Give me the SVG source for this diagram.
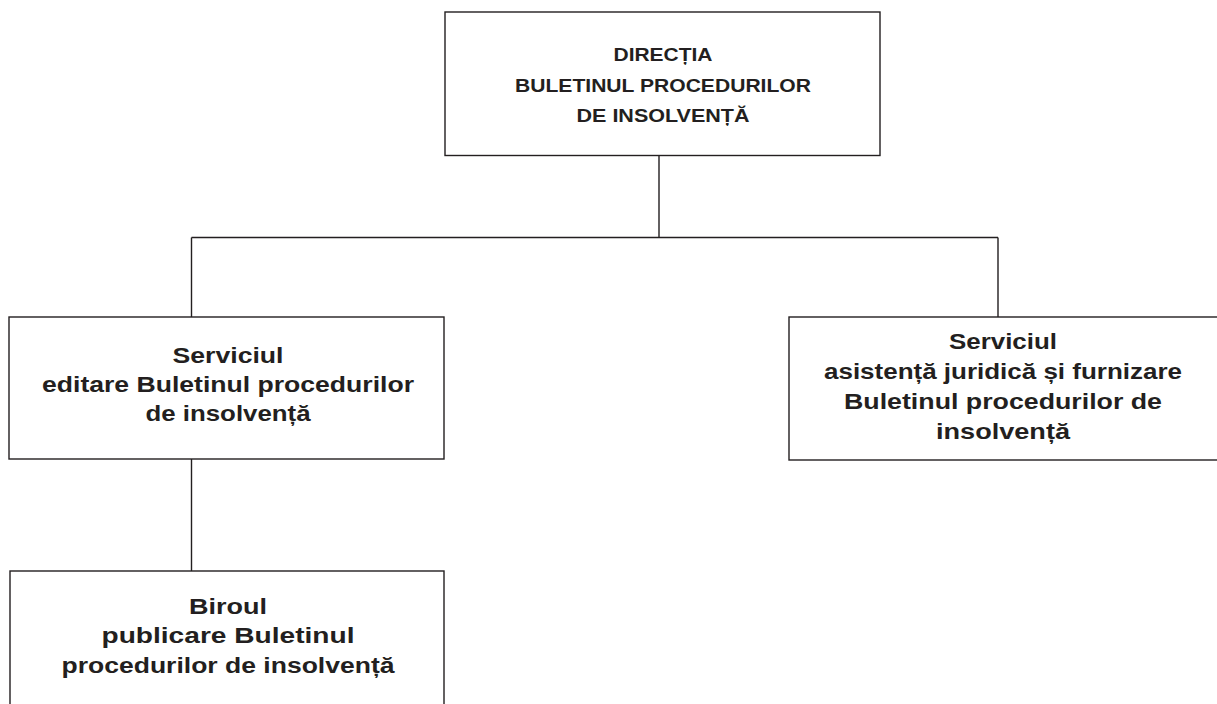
<svg xmlns="http://www.w3.org/2000/svg" width="1217" height="704" viewBox="0 0 1217 704">
<style>
.box{fill:#fff;stroke:#231f20;stroke-width:1.4}
.ln{fill:none;stroke:#231f20;stroke-width:1.4}
text{font-family:"Liberation Sans",Arial,sans-serif;font-weight:bold;fill:#231f20;text-anchor:middle}
.t1{font-size:19px}
.t2{font-size:22px}
</style>
<rect width="1217" height="704" fill="#fff"/>
<g id="connectors">
<path class="ln" d="M659,155 V237.5 M191.5,237.5 H998 M191.5,237.5 V317 M998,237.5 V317 M191.5,459 V571"/>
</g>
<g id="directia">
<rect class="box" x="445" y="12" width="435" height="143.5"/>
<text class="t1" x="663" y="61" textLength="99" lengthAdjust="spacingAndGlyphs">DIRECȚIA</text>
<text class="t1" x="663" y="91.5" textLength="296" lengthAdjust="spacingAndGlyphs">BULETINUL PROCEDURILOR</text>
<text class="t1" x="663" y="122" textLength="173" lengthAdjust="spacingAndGlyphs">DE INSOLVENȚĂ</text>
</g>
<g id="serviciul-editare">
<rect class="box" x="9" y="317" width="435" height="142"/>
<text class="t2" x="228" y="363" textLength="111" lengthAdjust="spacingAndGlyphs">Serviciul</text>
<text class="t2" x="228" y="392" textLength="372" lengthAdjust="spacingAndGlyphs">editare Buletinul procedurilor</text>
<text class="t2" x="228" y="421" textLength="165" lengthAdjust="spacingAndGlyphs">de insolvență</text>
</g>
<g id="serviciul-asistenta">
<rect class="box" x="789" y="317" width="435" height="143"/>
<text class="t2" x="1003" y="349" textLength="108" lengthAdjust="spacingAndGlyphs">Serviciul</text>
<text class="t2" x="1003" y="379" textLength="358" lengthAdjust="spacingAndGlyphs">asistență juridică și furnizare</text>
<text class="t2" x="1003" y="409" textLength="318" lengthAdjust="spacingAndGlyphs">Buletinul procedurilor de</text>
<text class="t2" x="1003" y="439" textLength="134" lengthAdjust="spacingAndGlyphs">insolvență</text>
</g>
<g id="biroul-publicare">
<rect class="box" x="10" y="571" width="434" height="145"/>
<text class="t2" x="228" y="614" textLength="78" lengthAdjust="spacingAndGlyphs">Biroul</text>
<text class="t2" x="228" y="643" textLength="253" lengthAdjust="spacingAndGlyphs">publicare Buletinul</text>
<text class="t2" x="228" y="673" textLength="333" lengthAdjust="spacingAndGlyphs">procedurilor de insolvență</text>
</g>
</svg>
